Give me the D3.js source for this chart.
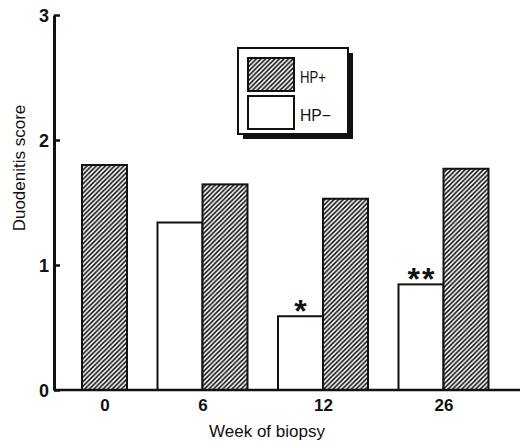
<!DOCTYPE html>
<html>
<head>
<meta charset="utf-8">
<script src="https://cdn.jsdelivr.net/npm/d3@7"></script>
<style>
  body { margin: 0; background: #fff; }
  text { font-family: "Liberation Sans", Arial, sans-serif; fill: #111; }
</style>
</head>
<body>
<div id="chart"></div>
<script>
// data
var weeks = ['0', '6', '12', '26'];
var hpPos = [1.80, 1.645, 1.53, 1.77];      // HP+
var hpNeg = [null, 1.34, 0.59, 0.845];      // HP- (none at week 0)
var marks = ['', '', '*', '**'];            // significance above HP- bars
var yTicks = [0, 1, 2, 3];

var width = 521, height = 441,
    marginLeft = 54, baseY = 390, topY = 15,
    barW = 45;

var svg = d3.select('#chart').append('svg')
    .attr('width', width)
    .attr('height', height);

var defs = svg.append('defs');
var pat = defs.append('pattern')
    .attr('id', 'hatch')
    .attr('patternUnits', 'userSpaceOnUse')
    .attr('width', 4.6)
    .attr('height', 4.6);
pat.append('rect').attr('width', 4.6).attr('height', 4.6).attr('fill', '#fff');
pat.append('path')
    .attr('d', 'M-1,1 l2,-2 M0,4.6 l4.6,-4.6 M3.6,5.6 l2,-2')
    .attr('stroke', '#111')
    .attr('stroke-width', 1.6);

var y = d3.scaleLinear().domain([0, 3]).range([baseY, topY]);
var x = d3.scalePoint().domain(weeks).range([82, 443.5]);

var rows = weeks.map(function (w, i) {
    return { week: w, pos: hpPos[i], neg: hpNeg[i], mark: marks[i] };
});

var g = svg.append('g');

g.selectAll('rect.neg')
    .data(rows.filter(function (d) { return d.neg != null; }))
    .enter().append('rect')
    .attr('class', 'neg')
    .attr('x', function (d) { return x(d.week) - barW; })
    .attr('y', function (d) { return y(d.neg); })
    .attr('width', barW)
    .attr('height', function (d) { return baseY - y(d.neg); })
    .attr('fill', '#fff')
    .attr('stroke', '#111')
    .attr('stroke-width', 2);

g.selectAll('rect.pos')
    .data(rows)
    .enter().append('rect')
    .attr('class', 'pos')
    .attr('x', function (d) { return x(d.week); })
    .attr('y', function (d) { return y(d.pos); })
    .attr('width', barW)
    .attr('height', function (d) { return baseY - y(d.pos); })
    .attr('fill', 'url(#hatch)')
    .attr('stroke', '#111')
    .attr('stroke-width', 2);

g.selectAll('text.mark')
    .data(rows.filter(function (d) { return d.mark; }))
    .enter().append('text')
    .attr('class', 'mark')
    .attr('x', function (d) { return x(d.week) - barW / 2 + 1; })
    .attr('y', function (d) { return y(d.neg) + 6; })
    .attr('text-anchor', 'middle')
    .style('font-size', '32px')
    .style('font-weight', 'bold')
    .style('letter-spacing', '2px')
    .text(function (d) { return d.mark; });

// y axis, ticks pointing inward
var yAxis = svg.append('g')
    .attr('transform', 'translate(' + marginLeft + ',0)')
    .call(d3.axisLeft(y).tickValues(yTicks).tickFormat(d3.format('d')).tickSize(-6).tickSizeOuter(0));
yAxis.select('.domain').attr('stroke', '#111').attr('stroke-width', 3);
yAxis.selectAll('.tick line').attr('stroke', '#111').attr('stroke-width', 2.5);
yAxis.selectAll('.tick text')
    .attr('x', -5)
    .attr('dy', '0.35em')
    .style('font-size', '18px')
    .style('font-weight', 'bold')
    .style('font-family', '"Liberation Sans", Arial, sans-serif')
    .attr('fill', '#111');

// x axis: baseline + labels
var xAxis = svg.append('g')
    .attr('transform', 'translate(0,' + baseY + ')')
    .call(d3.axisBottom(x).tickSize(0).tickPadding(9));
xAxis.select('.domain')
    .attr('d', 'M' + marginLeft + ',0H' + (width - 1))
    .attr('stroke', '#111')
    .attr('stroke-width', 2.5);
xAxis.selectAll('.tick text')
    .attr('x', function (d, i) { return hpNeg[i] == null ? barW / 2 : 0; })
    .style('font-size', '17px')
    .style('font-weight', 'bold')
    .style('font-family', '"Liberation Sans", Arial, sans-serif')
    .attr('fill', '#111');

// axis titles
svg.append('text')
    .attr('x', 267)
    .attr('y', 437)
    .attr('text-anchor', 'middle')
    .style('font-size', '17px')
    .text('Week of biopsy');

svg.append('text')
    .attr('transform', 'translate(25,168) rotate(-90)')
    .attr('text-anchor', 'middle')
    .style('font-size', '17px')
    .text('Duodenitis score');

// legend
var lg = svg.append('g').attr('transform', 'translate(238,48)');
lg.append('rect').attr('x', 5).attr('y', 5).attr('width', 110).attr('height', 86).attr('fill', '#111');
lg.append('rect').attr('width', 110).attr('height', 86).attr('fill', '#fff').attr('stroke', '#111').attr('stroke-width', 2);
var items = [{ label: 'HP+', fill: 'url(#hatch)', len: 26 }, { label: 'HP\u2212', fill: '#fff', len: 31 }];
var it = lg.selectAll('g.item').data(items).enter().append('g')
    .attr('transform', function (d, i) { return 'translate(10,' + (10 + i * 38) + ')'; });
it.append('rect')
    .attr('width', 46).attr('height', 33)
    .attr('fill', function (d) { return d.fill; })
    .attr('stroke', '#111').attr('stroke-width', 2);
it.append('text')
    .attr('x', 52).attr('y', 25)
    .attr('textLength', function (d) { return d.len; })
    .attr('lengthAdjust', 'spacingAndGlyphs')
    .style('font-size', '16px')
    .text(function (d) { return d.label; });
</script>
</body>
</html>
